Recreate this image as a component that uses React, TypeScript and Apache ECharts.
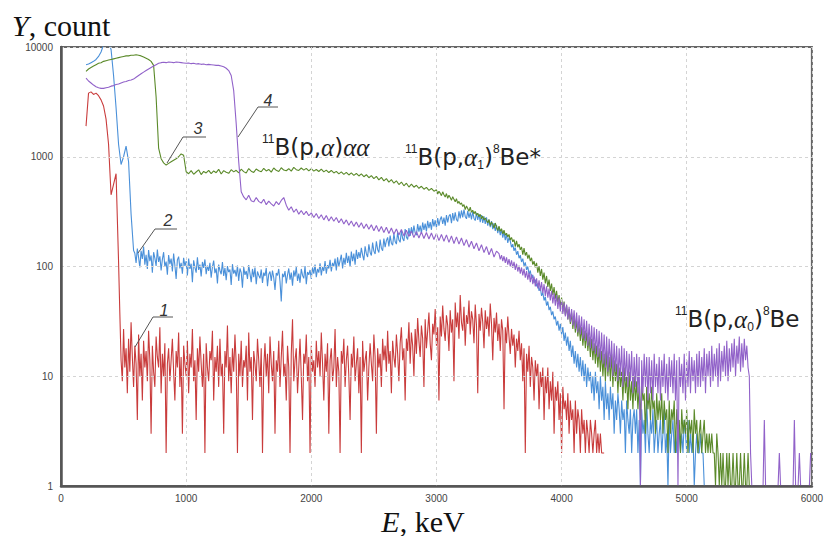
import React, { useEffect, useRef } from "react";
import * as echarts from "echarts";

// Each spectrum is a list of channel blocks: [first channel energy (keV), channel width (keV), counts].
const xTicks = [0, 1000, 2000, 3000, 4000, 5000, 6000];
const yTicks = [1, 10, 100, 1000, 10000];

// ---- Spectrum 1 ----
const redHead = [1900, 3800, 3900, 3700, 3800, 3600, 3300, 2900, 2200, 1300, 450, 560, 700, 110];
const redBody = [
  38, 14, 9, 27, 12, 18, 7, 22, 11, 31, 15, 8, 19, 13, 4, 24, 10, 16, 6, 21,
  12, 17, 9, 26, 14, 3, 19, 11, 8, 23, 15, 12, 28, 7, 16, 10, 20, 2, 13, 18,
  9, 14, 22, 11, 6, 17, 12, 25, 8, 15, 3, 19, 13, 10, 21, 7, 16, 12, 27, 9,
  14, 4, 18, 11, 23, 13, 8, 16, 2, 20, 12, 9, 17, 14, 26, 6, 15, 11, 19, 8,
  22, 10, 13, 3, 17, 12, 29, 9, 15, 7, 18, 11, 24, 13, 2, 16, 10, 21, 8, 14,
  12, 19, 6, 25, 11, 15, 4, 17, 13, 9, 22, 14, 8, 18, 2, 12, 20, 10, 16, 7,
  23, 13, 9, 17, 3, 14, 11, 21, 8, 15, 26, 10, 13, 6, 19, 12, 2, 16, 33, 9,
  14, 18, 7, 12, 22, 10, 4, 16, 13, 24, 9, 15, 2, 19, 11, 14, 8, 21, 12, 17,
  10, 25, 13, 6, 16, 11, 20, 3, 14, 18, 9, 12, 27, 8, 15, 11, 2, 17, 13, 22,
  8, 14, 19, 10, 4, 16, 12, 23, 9, 13, 18, 7, 15, 2, 21, 11, 14, 17, 6, 12,
  20, 13, 9, 24, 15, 3, 18, 12, 16, 8, 22, 14, 19, 11, 26, 13, 17, 7, 21, 15,
  12, 24, 16, 9, 20, 28, 14, 18, 6, 22, 17, 31, 13, 25, 19, 10, 27, 16, 34, 21,
  15, 29, 22, 8, 33, 18, 26, 38, 20, 14, 30, 24, 41, 19, 28, 6, 35, 23, 44, 27,
  21, 36, 29, 17, 40, 25, 33, 9, 47, 28, 38, 22, 55, 31, 26, 43, 19, 36, 30, 49,
  24, 39, 33, 20, 45, 29, 7, 37, 26, 42, 31, 18, 40, 27, 35, 23, 46, 30, 14, 34,
  25, 38, 21, 30, 17, 33, 26, 5, 28, 20, 35, 23, 16, 27, 19, 24, 12, 22, 17, 26,
  14, 20, 9, 18, 2, 16, 11, 19, 8, 15, 12, 6, 14, 10, 13, 5, 11, 8, 12, 4,
  10, 7, 12, 5, 9, 6, 11, 3, 8, 6, 9, 4, 7, 2, 8, 5, 6, 4, 7, 3,
  6, 4, 5, 2, 6, 3, 5, 4, 2, 5, 3, 4, 2, 4, 3, 2, 4, 3, 2, 3,
  4, 2, 3, 2, 3, 2, 2, 2,
];

// ---- Spectrum 2 ----
const blueHead = [
  6900, 7000, 7200, 7400, 7700, 8200, 9000, 10500, 11500, 11000,
  9500, 5500, 2800, 1300, 850, 1000, 1250, 900, 300, 140,
];
const blueBody = [
  132, 108, 146, 121, 98, 139, 117, 152, 104, 128, 95, 141, 112, 126, 88, 135, 119, 101, 143, 110,
  124, 92, 116, 135, 99, 111, 84, 127, 105, 118, 90, 131, 102, 77, 115, 123, 96, 108, 86, 120,
  101, 112, 83, 118, 95, 106, 72, 114, 98, 88, 121, 93, 104, 81, 110, 97, 116, 85, 102, 91,
  108, 79, 99, 113, 87, 96, 70, 104, 92, 85, 110, 82, 97, 75, 101, 89, 94, 68, 105, 86,
  93, 81, 102, 74, 96, 88, 64, 99, 84, 91, 77, 103, 86, 72, 95, 80, 98, 69, 90, 83,
  78, 94, 71, 88, 82, 97, 66, 85, 90, 74, 92, 79, 61, 87, 83, 95, 73, 48, 86, 80,
  91, 70, 84, 96, 76, 88, 67, 92, 81, 99, 74, 86, 71, 95, 83, 78, 101, 69, 89, 84,
  93, 77, 98, 86, 104, 80, 95, 88, 107, 83, 99, 91, 112, 86, 103, 96, 115, 90, 108, 100,
  118, 92, 121, 100, 113, 128, 96, 120, 104, 133, 108, 125, 99, 137, 112, 131, 104, 142, 117, 135,
  120, 148, 127, 114, 153, 131, 122, 159, 135, 126, 165, 138, 130, 170, 143, 134, 176, 147, 139, 180,
  150, 172, 184, 152, 191, 163, 156, 198, 169, 160, 205, 174, 166, 212, 180, 171, 219, 186, 176, 224,
  190, 228, 196, 236, 202, 193, 244, 208, 236, 200, 252, 216, 246, 209, 261, 224, 254, 216, 270, 232,
  264, 226, 276, 236, 268, 285, 244, 279, 236, 294, 252, 288, 299, 248, 306, 262, 312, 268, 258, 318,
  274, 324, 280, 330, 286, 272, 321, 278, 312, 268, 316, 274, 262, 309, 266, 301, 254, 294, 250, 286,
  244, 280, 236, 268, 228, 259, 219, 248, 211, 239, 201, 228, 193, 217, 183, 207, 174, 196, 164, 184,
  170, 150, 160, 139, 149, 128, 138, 119, 127, 110, 118, 101, 109, 93, 100, 85, 92, 78, 84, 71,
  76, 66, 70, 60, 64, 54, 58, 49, 53, 44, 48, 40, 43, 36, 39, 33, 35, 29, 32, 26,
  30, 24, 28, 21, 25, 19, 23, 17, 21, 15, 19, 13, 17, 12, 16, 11, 15, 10, 14, 9,
  13, 8, 12, 9, 11, 7, 10, 6, 11, 7, 9, 5, 10, 6, 8, 4, 9, 5, 7, 4,
  8, 5, 7, 3, 6, 4, 7, 5, 3, 6, 4, 5, 2, 6, 4, 3, 5, 2, 4, 5,
  3, 5, 2, 4, 1, 5, 3, 4, 2, 6, 3, 2, 4, 3, 5, 2, 3, 4, 2, 3,
  4, 2, 3, 5, 2, 3, 1, 4, 2, 3, 4, 2, 3, 2, 4, 3, 2, 3, 2, 4,
  3, 2, 4, 2, 3, 2, 3, 1, 2, 3, 2, 2, 3, 2, 2, 1,
];

// ---- Spectrum 3 ----
const greenHead = [
  6000, 6300, 6500, 6700, 6900, 7100, 7200, 7400, 7500, 7600,
  7700, 7800, 7900, 8000, 8100, 8200, 8300, 8300, 8400, 8400,
  8500, 8400, 8300, 8100, 7900, 7700, 7400, 6800, 3500, 1200,
  960, 880, 840, 870, 900, 930, 960, 1000, 1060, 1030,
];
const greenPlateau = [
  730, 700, 748, 692, 726, 760, 688, 735, 712, 752,
  702, 742, 716, 768, 696, 748, 722, 706, 762, 728,
  752, 714, 770, 732, 710, 780, 738, 720, 774, 746,
  730, 784, 742, 766, 724, 790, 752, 734, 794, 756,
  746, 778, 740, 800, 762, 750, 790, 756, 784, 744,
  778, 740, 766, 734, 772, 728, 756, 718, 750, 712,
  736, 698, 728, 690, 720, 682, 712, 676, 704, 668,
  698, 658, 686, 644, 674, 632, 662, 616, 648, 602,
  632, 588, 618, 574, 604, 558, 588, 544, 574, 530,
  562, 528, 550, 516, 538, 506, 526, 494, 514, 486,
];
const greenTail = [
  500, 458, 485, 466, 442, 479, 451, 430, 462, 418, 446, 425, 401, 433, 409, 388, 415, 376, 392, 368,
  380, 352, 366, 330, 356, 338, 318, 347, 312, 326, 302, 318, 293, 306, 284, 299, 272, 288, 265, 276,
  262, 250, 268, 236, 255, 242, 224, 249, 228, 212, 233, 209, 221, 198, 214, 193, 201, 186, 196, 174,
  184, 168, 176, 152, 171, 150, 160, 142, 151, 128, 147, 126, 135, 118, 128, 112, 120, 104, 112, 98,
  108, 88, 101, 82, 95, 76, 88, 70, 82, 65, 76, 60, 70, 55, 65, 51, 60, 47, 55, 43,
  52, 39, 48, 36, 44, 33, 41, 30, 38, 27, 35, 25, 32, 23, 30, 21, 28, 19, 26, 18,
  25, 17, 23, 15, 22, 14, 20, 13, 19, 12, 18, 11, 17, 10, 16, 9, 17, 10, 15, 9,
  16, 8, 14, 9, 13, 7, 12, 8, 11, 6, 12, 7, 10, 5, 11, 6, 9, 5, 10, 6,
  9, 5, 8, 4, 9, 6, 7, 3, 8, 5, 7, 4, 8, 5, 6, 3, 7, 4, 6, 4,
  7, 3, 6, 4, 5, 2, 6, 3, 5, 4, 6, 2, 5, 3, 4, 2, 5, 3, 4, 3,
  5, 2, 4, 3, 4, 2, 5, 3, 4, 2, 3, 4, 2, 3, 4, 2, 3, 2, 3, 2,
  3, 2, 2, 1, 3, 2, 1, 2, 1, 2, 1, 1, 2, 1, 2, 1, 1, 2, 1, 1,
  2, 1, 1, 2, 1, 1, 2, 1, 1, 2, 1, 1, 1,
];

// ---- Spectrum 4 ----
const purpleHead = [
  5200, 4900, 4700, 4500, 4350, 4250, 4200, 4200, 4250, 4300,
  4400, 4450, 4550, 4600, 4700, 4800, 4850, 4950, 5000, 5100,
  5300, 5500, 5700, 5900, 6100, 6300, 6500, 6700, 6900, 7100,
  7200, 7250, 7200, 7300, 7250, 7200, 7300, 7250, 7200, 7150,
  7100, 7150, 7050, 7100, 7000, 7050, 6950, 7000, 6900, 6950,
  6900, 6850, 6800, 6800, 6700, 6600, 6400, 6100, 5500, 4000,
  2000, 900, 480,
];
const purpleMid = [
  430, 405, 445, 398, 388, 425, 392,
  378, 410, 366, 394, 372, 356, 390, 366, 400, 425,
  362, 326, 350, 312, 334, 300, 324, 296, 318, 290,
  308, 280, 304, 274, 296, 266, 292, 260, 284, 258,
  280, 250, 272, 244, 266, 238, 260, 232, 254, 228,
  250, 222, 244, 218, 240, 212, 236, 208, 232, 204,
  228, 200, 224, 197, 220, 194, 218, 190, 214, 188,
  210, 184, 208, 182, 206, 180, 204, 178, 202, 176,
  200, 172, 196, 170, 194, 166, 190, 162, 186, 160,
  182, 155, 176, 150, 170, 145, 164, 139, 158, 134,
  152, 128, 146, 122, 138,
];
const purpleTail = [
  131, 116, 127, 112, 124, 108, 121, 104, 117, 100, 114, 97, 110, 93, 106, 90, 102, 86, 98, 83,
  95, 79, 91, 76, 88, 72, 85, 69, 81, 66, 78, 63, 75, 60, 72, 57, 69, 54, 66, 52,
  63, 49, 60, 46, 57, 44, 55, 41, 52, 39, 50, 37, 47, 35, 45, 33, 43, 31, 41, 29,
  40, 27, 38, 25, 36, 24, 35, 22, 33, 21, 32, 19, 30, 18, 29, 17, 28, 16, 27, 15,
  26, 14, 25, 13, 24, 12, 23, 11, 22, 12, 21, 10, 20, 11, 19, 9, 18, 10, 19, 8,
  18, 9, 17, 8, 16, 9, 17, 7, 15, 8, 16, 7, 15, 1, 14, 7, 16, 8, 15, 6,
  15, 7, 14, 6, 16, 8, 13, 7, 15, 6, 14, 8, 16, 7, 13, 6, 15, 8, 14, 7,
  16, 6, 14, 1, 15, 8, 13, 7, 16, 6, 14, 8, 17, 7, 15, 9, 14, 7, 16, 8,
  17, 8, 15, 9, 18, 7, 16, 10, 17, 8, 19, 9, 16, 10, 18, 8, 20, 9, 17, 11,
  19, 10, 21, 9, 18, 11, 20, 12, 22, 10, 19, 13, 23, 11, 20, 12, 22, 14, 19, 12,
  10, 2, 1, 1, 1, 1, 1, 1, 1, 1, 1, 1, 4, 1, 1, 1, 1, 1, 1, 1,
  1, 1, 1, 1, 2, 1, 1, 1, 1, 1, 1, 1, 1, 1, 1, 1, 4, 1, 1, 1,
  2, 1, 1, 1, 1, 1, 1, 1, 1, 2,
];

type Block = [number, number, number[]];

const spectra: { color: string; width: number; blocks: Block[] }[] = [
  { color: "#c93c3c", width: 1.1, blocks: [[200, 20, redHead], [470, 10, redBody]] },
  { color: "#4a90d9", width: 1.1, blocks: [[200, 20, blueHead], [590, 10, blueBody]] },
  {
    color: "#5b8a2a",
    width: 1.1,
    blocks: [[200, 20, greenHead], [1000, 20, greenPlateau], [3000, 10, greenTail]],
  },
  {
    color: "#9162c9",
    width: 1.1,
    blocks: [[200, 20, purpleHead], [1460, 20, purpleMid], [3500, 10, purpleTail]],
  },
];

const SANS = "'Liberation Sans', Arial, sans-serif";
const WIDE_SANS = "'DejaVu Sans', 'Liberation Sans', sans-serif";
const SERIF = "'Liberation Serif', 'Times New Roman', serif";

function toPoints(blocks: Block[]) {
  const pts: number[][] = [];
  for (const [start, step, counts] of blocks) {
    counts.forEach((c, i) => pts.push([start + step * i, c]));
  }
  return pts;
}

const chemRich = {
  t: { fontFamily: WIDE_SANS, fontSize: 23, lineHeight: 28, fill: "#222" },
  a: { fontFamily: SERIF, fontStyle: "italic", fontSize: 25, lineHeight: 28, fill: "#222" },
  sup: { fontFamily: SANS, fontSize: 12, lineHeight: 19, verticalAlign: "top", fill: "#222" },
  sub: { fontFamily: SANS, fontSize: 12, lineHeight: 18, verticalAlign: "bottom", fill: "#222" },
};

function chemLabel(x: number, y: number, text: string) {
  return {
    type: "text",
    x,
    y,
    z: 100,
    style: { text, rich: chemRich, align: "left", verticalAlign: "top" },
  };
}

function curveTag(label: string, tx: number, ty: number, pts: number[][]) {
  return [
    {
      type: "polyline",
      z: 100,
      shape: { points: pts },
      style: { stroke: "#555", lineWidth: 1, fill: null },
    },
    {
      type: "text",
      x: tx,
      y: ty,
      z: 100,
      style: {
        text: label,
        font: `italic 16px ${SANS}`,
        fill: "#333",
        align: "center",
        verticalAlign: "middle",
      },
    },
  ];
}

export default function App() {
  const ref = useRef<HTMLDivElement>(null);

  useEffect(() => {
    const chart = echarts.init(ref.current!, null, { renderer: "svg" });

    chart.setOption({
      animation: false,
      backgroundColor: "#ffffff",
      grid: {
        left: 61,
        right: 13,
        top: 47,
        bottom: 50,
        show: true,
        borderColor: "#666",
        borderWidth: 2,
      },
      xAxis: {
        type: "value",
        min: xTicks[0],
        max: xTicks[xTicks.length - 1],
        interval: 1000,
        z: 10,
        axisLine: { show: true, onZero: false, lineStyle: { color: "#555", width: 2.5 } },
        axisTick: { show: false },
        axisLabel: {
          color: "#444",
          fontSize: 10,
          fontFamily: SANS,
          margin: 7,
          formatter: (v: number) => String(v),
        },
        splitLine: { show: true, lineStyle: { color: "#d4d4d4", type: [3, 3], width: 1 } },
      },
      yAxis: {
        type: "log",
        logBase: 10,
        min: yTicks[0],
        max: yTicks[yTicks.length - 1],
        z: 10,
        axisLine: { show: true, lineStyle: { color: "#555", width: 2.5 } },
        axisTick: { show: false },
        axisLabel: {
          color: "#444",
          fontSize: 10,
          fontFamily: SANS,
          margin: 8,
          formatter: (v: number) => String(Math.round(v)),
        },
        splitLine: { show: true, lineStyle: { color: "#d4d4d4", type: [3, 3], width: 1 } },
      },
      series: spectra.map((s, k) => ({
        type: "line",
        data: toPoints(s.blocks),
        showSymbol: false,
        symbol: "none",
        clip: true,
        z: 2 + k,
        lineStyle: { color: s.color, width: s.width },
        emphasis: { disabled: true },
      })),
      graphic: [
        {
          type: "text",
          x: 12,
          y: 25,
          z: 100,
          style: {
            text: "{i|Y}{r|, count}",
            align: "left",
            verticalAlign: "middle",
            rich: {
              i: { fontFamily: SERIF, fontStyle: "italic", fontSize: 30, fill: "#111" },
              r: { fontFamily: SERIF, fontSize: 30, fill: "#111" },
            },
          },
        },
        {
          type: "text",
          x: 423,
          y: 521,
          z: 100,
          style: {
            text: "{i|E}{r|, keV}",
            align: "center",
            verticalAlign: "middle",
            rich: {
              i: { fontFamily: SERIF, fontStyle: "italic", fontSize: 30, fill: "#111" },
              r: { fontFamily: SERIF, fontSize: 30, fill: "#111" },
            },
          },
        },
        chemLabel(262, 133, "{sup|11}{t|B(p,}{a|α}{t|)}{a|αα}"),
        chemLabel(405, 143, "{sup|11}{t|B(p,}{a|α}{sub|1}{t|)}{sup|8}{t|Be*}"),
        chemLabel(675, 305, "{sup|11}{t|B(p,}{a|α}{sub|0}{t|)}{sup|8}{t|Be}"),
        ...curveTag("1", 164, 310, [[135, 347], [153, 317], [173, 317]]),
        ...curveTag("2", 168, 220, [[138, 253], [155, 229], [177, 229]]),
        ...curveTag("3", 198, 128, [[167, 163], [183, 137], [206, 137]]),
        ...curveTag("4", 268, 100, [[238, 137], [258, 107], [278, 107]]),
      ],
    });

    return () => chart.dispose();
  }, []);

  return (
    <div
      ref={ref}
      style={{ position: "absolute", left: 0, top: 0, width: 826, height: 536 }}
    />
  );
}
